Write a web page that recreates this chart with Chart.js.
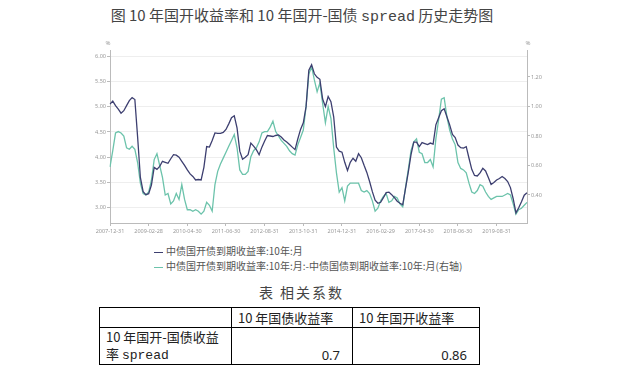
<!DOCTYPE html>
<html lang="zh">
<head>
<meta charset="UTF-8">
<title>10年国开收益率和10年国开-国债spread历史走势图</title>
<script src="https://cdn.jsdelivr.net/npm/chart.js"></script>
<style>
  body { margin: 0; width: 629px; height: 376px; background: #fff; position: relative; overflow: hidden;
         font-family: "Noto Sans CJK SC", sans-serif; }
  .mono { font-family: "Liberation Mono", "DejaVu Sans Mono", monospace; }
  .title { position: absolute; top: 4px; left: 0; width: 604px; text-align: center; font-size: 15px; color: #444; }
  #wrap { position: absolute; left: 60px; top: 30px; width: 520px; height: 210px; }
  .legend { position: absolute; left: 154px; top: 243px; font-size: 10px; color: #555; line-height: 15px; }
  .legend i { display: inline-block; width: 9px; height: 1.5px; vertical-align: middle; margin-right: 3px; }
  .tcap { position: absolute; top: 282px; left: 0; width: 603px; text-align: center; font-size: 14px; letter-spacing: 2px; color: #444; }
  table { position: absolute; left: 99px; top: 307px; border-collapse: collapse; font-size: 13px; color: #222; table-layout: fixed; }
  td { border: 1px solid #000; padding: 0 6px; line-height: 17px; white-space: nowrap; overflow: hidden; }
  td.num { text-align: right; vertical-align: bottom; padding-right: 12px; font-family: "Noto Sans", sans-serif; }
</style>
</head>
<body>
  <div class="title">图 10 年国开收益率和 10 年国开-国债 <span class="mono">spread</span> 历史走势图</div>

  <div id="wrap"><canvas id="trend"></canvas></div>

  <div class="legend" id="legend"></div>

  <div class="tcap">表 相关系数</div>
  <table>
    <colgroup><col style="width:132px"><col style="width:121px"><col style="width:127px"></colgroup>
    <tr style="height:20px">
      <td></td>
      <td>10 年国债收益率</td>
      <td>10 年国开收益率</td>
    </tr>
    <tr style="height:35px">
      <td>10 年国开-国债收益<br>率 <span class="mono">spread</span></td>
      <td class="num">0.7</td>
      <td class="num">0.86</td>
    </tr>
  </table>

<script>
// monthly data, starting 2007-12
const startYear = 2007;
const startMonth = 12;
const tickEvery = 14;

// 中债国开债到期收益率:10年:月 (left axis, %)
const cdbYield = [
  5.05, 5.11, 5.02, 4.95, 4.87, 4.92, 5.02, 5.12, 5.18, 5.14,
  4.40, 3.60, 3.32, 3.26, 3.28, 3.45, 3.80, 3.76, 3.82, 3.92,
  3.90, 3.88, 3.97, 4.05, 4.04, 4.00, 3.92, 3.84, 3.75, 3.67,
  3.62, 3.55, 3.56, 3.55, 3.80, 4.21, 4.20, 4.33, 4.48, 4.47,
  4.47, 4.49, 4.55, 4.66, 4.78, 4.82, 4.58, 4.12, 3.96, 4.00,
  4.05, 4.28, 4.22, 4.15, 4.05, 4.20, 4.32, 4.43, 4.42, 4.41,
  4.43, 4.44, 4.40, 4.34, 4.30, 4.25, 4.20, 4.15, 4.36, 4.55,
  4.68, 5.00, 5.72, 5.83, 5.65, 5.58, 5.54, 5.15, 5.00, 5.20,
  5.10, 4.80, 4.20, 4.12, 4.10, 3.90, 3.74, 3.90, 3.98, 3.92,
  4.07, 3.99, 3.84, 3.70, 3.52, 3.32, 3.15, 3.09, 3.11, 3.20,
  3.30, 3.31, 3.26, 3.20, 3.13, 3.09, 3.06, 3.38, 3.70, 4.05,
  4.30, 4.30, 4.21, 4.29, 4.27, 4.25, 4.28, 4.26, 4.64, 4.78,
  4.92, 4.96, 4.80, 4.64, 4.45, 4.39, 4.24, 4.19, 4.18, 4.21,
  3.98, 3.76, 3.64, 3.63, 3.69, 3.78, 3.73, 3.60, 3.46, 3.50,
  3.55, 3.58, 3.62, 3.58, 3.52, 3.40, 3.18, 2.90, 3.00, 3.12,
  3.25, 3.30
];

// 国开 - 国债 10年 spread (right axis, %)
const spread = [
  0.59, 0.70, 0.82, 0.83, 0.82, 0.80, 0.72, 0.71, 0.73, 0.71,
  0.62, 0.48, 0.41, 0.40, 0.42, 0.50, 0.64, 0.68, 0.60, 0.52,
  0.40, 0.41, 0.34, 0.36, 0.41, 0.37, 0.47, 0.37, 0.30, 0.30,
  0.29, 0.30, 0.29, 0.27, 0.29, 0.35, 0.33, 0.29, 0.47, 0.56,
  0.61, 0.65, 0.69, 0.73, 0.77, 0.81, 0.72, 0.57, 0.54, 0.54,
  0.56, 0.66, 0.70, 0.72, 0.76, 0.82, 0.83, 0.83, 0.86, 0.90,
  0.83, 0.80, 0.77, 0.75, 0.73, 0.70, 0.68, 0.67, 0.74, 0.79,
  0.84, 1.00, 1.22, 1.27, 1.18, 1.10, 1.16, 1.02, 0.89, 1.00,
  0.92, 0.72, 0.55, 0.42, 0.45, 0.36, 0.46, 0.48, 0.48, 0.48,
  0.48, 0.43, 0.42, 0.43, 0.41, 0.36, 0.29, 0.31, 0.36, 0.39,
  0.41, 0.35, 0.36, 0.39, 0.38, 0.34, 0.32, 0.45, 0.57, 0.70,
  0.76, 0.78, 0.69, 0.68, 0.62, 0.62, 0.64, 0.59, 0.78, 0.91,
  1.05, 1.06, 0.93, 0.84, 0.78, 0.74, 0.62, 0.58, 0.57, 0.55,
  0.48, 0.42, 0.41, 0.43, 0.47, 0.46, 0.42, 0.39, 0.37, 0.38,
  0.39, 0.39, 0.39, 0.40, 0.41, 0.40, 0.34, 0.27, 0.30, 0.31,
  0.33, 0.35
];

const leftTicks = [3.0, 3.5, 4.0, 4.5, 5.0, 5.5, 6.0];
const rightTicks = [0.4, 0.6, 0.8, 1.0, 1.2];

const seriesNames = ['中债国开债到期收益率:10年:月', '中债国开债到期收益率:10年:月:-中债国债到期收益率:10年:月(右轴)'];
const seriesColors = ['#3d3f70', '#6cc3ab'];

// month-end dates used as category labels
const months = [];
for (let i = 0; i < cdbYield.length; i++) {
  const y = startYear + Math.floor((startMonth - 1 + i) / 12);
  const m = (startMonth - 1 + i) % 12 + 1;
  const d = new Date(y, m, 0).getDate();
  months.push(y + '-' + String(m).padStart(2, '0') + '-' + d);
}

// html legend
document.getElementById('legend').innerHTML = seriesNames
  .map((n, i) => '<div><i style="background:' + seriesColors[i] + '"></i>' + n + '</div>').join('');

const unitLabels = {
  id: 'unitLabels',
  afterDraw(chart) {
    const ctx = chart.ctx;
    ctx.save();
    ctx.font = '6px "Noto Sans"';
    ctx.fillStyle = '#999';
    ctx.textAlign = 'center';
    ctx.fillText('%', chart.scales.y.right - 2, chart.chartArea.top - 5);
    ctx.fillText('%', chart.scales.y1.left + 1, chart.chartArea.top - 5);
    ctx.restore();
  }
};

const tickFont = { family: 'Noto Sans', size: 5.5 };

new Chart(document.getElementById('trend'), {
  type: 'line',
  data: {
    labels: months,
    datasets: [
      { label: seriesNames[0], data: cdbYield, yAxisID: 'y', borderColor: seriesColors[0], borderWidth: 1.3, pointRadius: 0, tension: 0 },
      { label: seriesNames[1], data: spread, yAxisID: 'y1', borderColor: seriesColors[1], borderWidth: 1.3, pointRadius: 0, tension: 0 }
    ]
  },
  options: {
    responsive: true,
    maintainAspectRatio: false,
    animation: false,
    layout: { padding: { top: 20 } },
    plugins: { legend: { display: false }, tooltip: { enabled: false } },
    scales: {
      x: {
        grid: { drawOnChartArea: false, tickLength: 3, tickColor: '#bbb' },
        border: { color: '#bbb' },
        ticks: { autoSkip: false, maxRotation: 0, padding: 2, color: '#999', font: tickFont },
        afterBuildTicks: s => { s.ticks = s.ticks.filter(t => t.value % tickEvery === 0); },
        afterFit: s => { s.height = 17; }
      },
      y: {
        position: 'left',
        min: 2.70, max: 6.12,
        grid: { color: '#eeeeee', tickLength: 3, tickColor: '#bbb' },
        border: { color: '#bbb' },
        ticks: { padding: 1, color: '#999', font: tickFont, callback: v => v.toFixed(2) },
        afterBuildTicks: s => { s.ticks = leftTicks.map(v => ({ value: v })); },
        afterFit: s => { s.width = 50; }
      },
      y1: {
        position: 'right',
        min: 0.21, max: 1.383,
        grid: { drawOnChartArea: false, tickLength: 3, tickColor: '#bbb' },
        border: { color: '#bbb' },
        ticks: { padding: 1, color: '#999', font: tickFont, callback: v => v.toFixed(2) },
        afterBuildTicks: s => { s.ticks = rightTicks.map(v => ({ value: v })); },
        afterFit: s => { s.width = 53; }
      }
    }
  },
  plugins: [unitLabels]
});
</script>
</body>
</html>
